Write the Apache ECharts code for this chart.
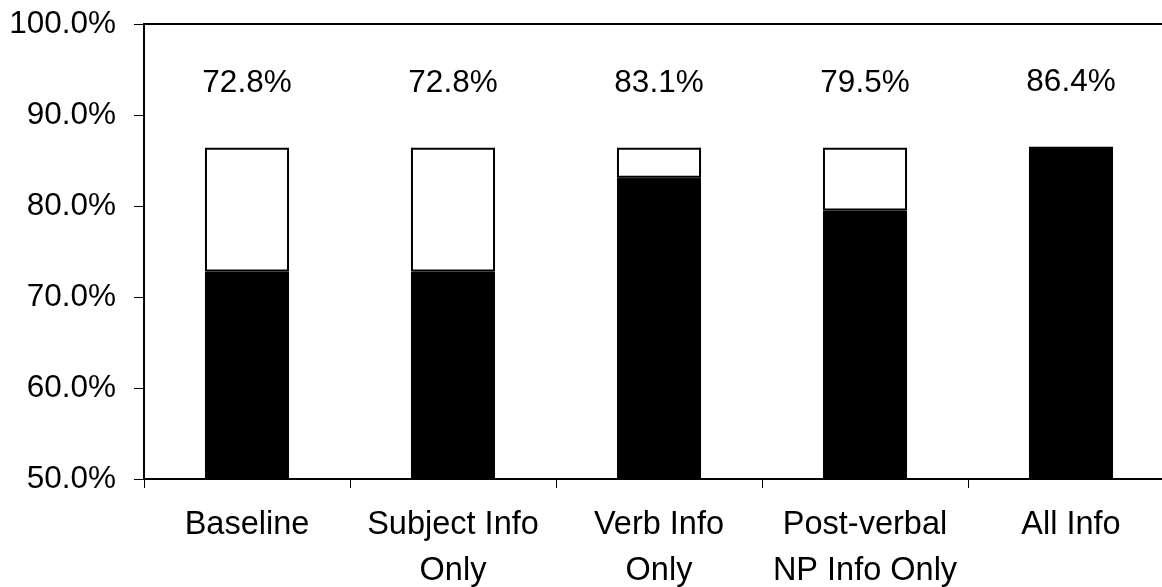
<!DOCTYPE html>
<html>
<head>
<meta charset="utf-8">
<script src="https://cdn.jsdelivr.net/npm/echarts@6/dist/echarts.min.js"></script>
<style>
  html, body { margin: 0; padding: 0; background: #fff; }
  #chart { width: 1162px; height: 587px; }
</style>
</head>
<body>
<div id="chart"></div>
<script>
// categories and values
const categories = ["Baseline", "Subject Info\nOnly", "Verb Info\nOnly", "Post-verbal\nNP Info Only", "All Info"];
const correct = [72.8, 72.8, 83.1, 79.5, 86.4];
const remainder = [13.6, 13.6, 3.3, 6.9, 0];

const font = "Liberation Sans, Arial, sans-serif";

const chart = echarts.init(document.getElementById("chart"));
chart.setOption({
  animation: false,
  backgroundColor: "#fff",
  grid: {
    left: 144,
    width: 1030, // plot runs past the right edge of the picture
    top: 24,
    height: 455,
    outerBoundsMode: "none",
    containLabel: false,
    show: true,
    borderColor: "#000",
    borderWidth: 2,
    backgroundColor: "transparent",
  },
  xAxis: {
    type: "category",
    data: categories,
    axisLine: { lineStyle: { color: "#000", width: 2 } },
    axisTick: { show: true, length: 9, lineStyle: { color: "#000", width: 1 } },
    axisLabel: {
      color: "#000",
      fontFamily: font,
      fontSize: 32.5,
      lineHeight: 46,
      margin: 23,
      interval: 0,
    },
  },
  yAxis: {
    type: "value",
    min: 50,
    max: 100,
    interval: 10,
    splitLine: { show: false },
    axisLine: { show: true, lineStyle: { color: "#000", width: 2 } },
    axisTick: { show: true, length: 10, lineStyle: { color: "#000", width: 1 } },
    axisLabel: {
      color: "#000",
      fontFamily: font,
      fontSize: 31.5,
      margin: 28,
      formatter: (v) => v.toFixed(1) + "%",
    },
  },
  series: [
    {
      type: "bar",
      stack: "total",
      data: correct,
      barWidth: "40.8%",
      itemStyle: { color: "#000", borderColor: "#000", borderWidth: 1 },
    },
    {
      type: "bar",
      stack: "total",
      data: remainder,
      itemStyle: { color: "#fff", borderColor: "#000", borderWidth: 2 },
      label: {
        show: true,
        position: "top",
        distance: 48,
        color: "#000",
        fontFamily: font,
        fontSize: 31.5,
        formatter: (p) => correct[p.dataIndex].toFixed(1) + "%",
      },
    },
  ],
});
window.addEventListener("resize", () => chart.resize());
</script>
</body>
</html>
